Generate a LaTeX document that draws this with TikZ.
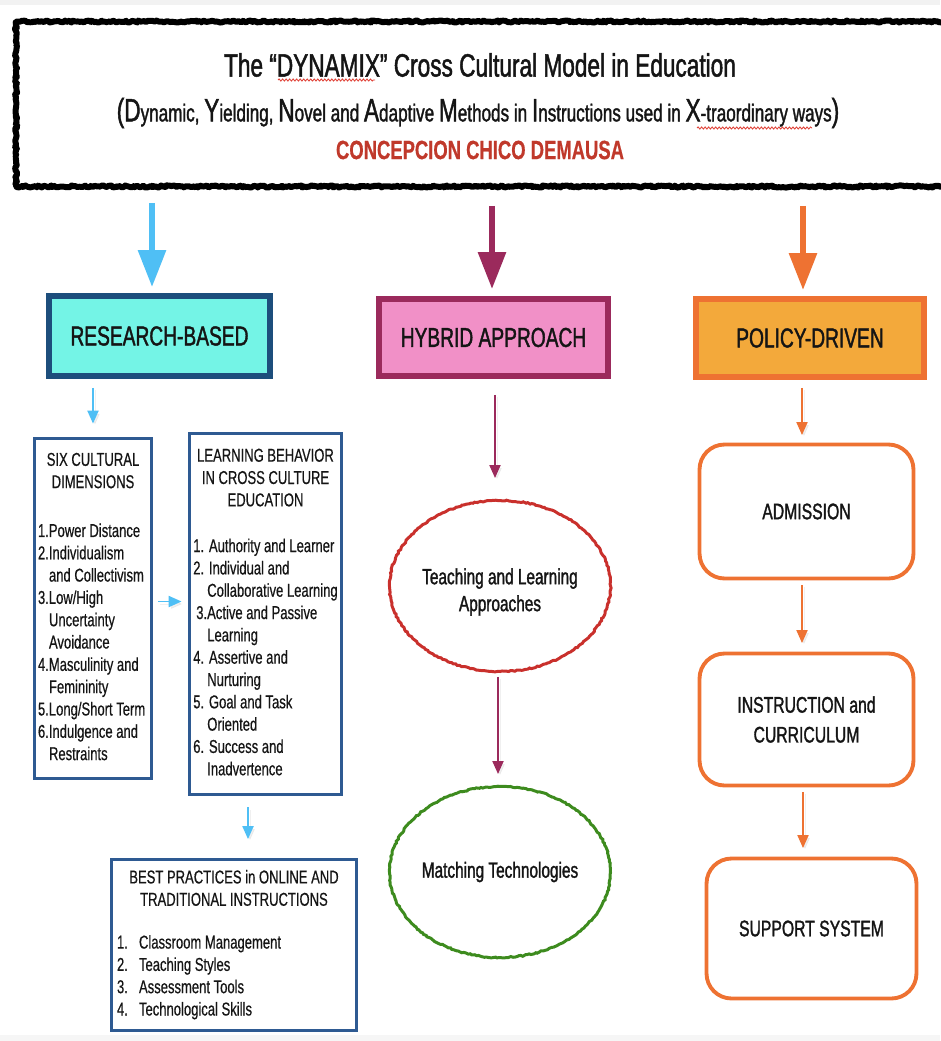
\documentclass[tikz,border=0pt]{standalone}
\usepackage{fontspec}
\setmainfont{Liberation Sans}[FakeStretch=0.7, FakeBold=0.5]
\newfontfamily\headfont{Liberation Sans}[FakeStretch=0.7, FakeBold=1.4]
\usepackage{tikz}
\usetikzlibrary{arrows.meta,calc,positioning,shapes.geometric,decorations.pathmorphing}
\definecolor{TextDark}{HTML}{151515}
\definecolor{NameRed}{HTML}{C0392B}
\definecolor{SpellRed}{HTML}{E0443A}
\definecolor{ResearchFill}{HTML}{74F4E6}
\definecolor{ResearchEdge}{HTML}{1D4E7C}
\definecolor{HybridFill}{HTML}{F190C7}
\definecolor{HybridEdge}{HTML}{9B2A5C}
\definecolor{PolicyFill}{HTML}{F3A93B}
\definecolor{PolicyEdge}{HTML}{EE7232}
\definecolor{ArrowBlue}{HTML}{4FBFF5}
\definecolor{ListEdge}{HTML}{2E5A92}
\definecolor{OvalRed}{HTML}{C9302C}
\definecolor{OvalGreen}{HTML}{3D8B1E}
\newcommand{\bigL}[1]{{\fontsize{18.4}{21}\selectfont #1}}
\newcommand{\ind}{\hspace*{0.22cm}}
\newcommand{\indb}{\hspace*{0.28cm}}
\newcommand{\num}[1]{\makebox[0.44cm][l]{#1}}
\newcommand{\hd}[1]{\multicolumn{1}{@{}c@{}}{#1}}
\newcommand{\hdw}[2]{\multicolumn{1}{@{}c@{}}{\makebox[#1]{#2}}}

\begin{document}
\begin{tikzpicture}[x=0.02cm, y=-0.02cm,
        every node/.style={text=TextDark},
        roughline/.style={decorate, decoration={random steps, segment length=1.2pt, amplitude=0.35pt}},
        titlebox/.style={draw=black, line width=3.4pt, line join=round, minimum width=18.68cm, minimum height=3.3cm,
            decorate, decoration={random steps, segment length=1pt, amplitude=0.6pt}},
        spellline/.style={SpellRed, line width=0.5pt, decorate, decoration={snake, segment length=2pt, amplitude=0.6pt}},
        headbox/.style={draw, line width=3.4pt, inner sep=0pt, font=\headfont\fontsize{15.6}{18}\selectfont},
        listbox/.style={draw=ListEdge, line width=1.6pt, inner sep=0pt, font=\fontsize{10.6}{12.7}\selectfont},
        ovalbox/.style={ellipse, draw, line width=1.7pt, inner sep=0pt, minimum width=4.42cm, minimum height=3.42cm, roughline},
        ovaltext/.style={align=center, font=\headfont\fontsize{12.5}{15.3}\selectfont},
        stepbox/.style={draw=PolicyEdge, line width=2.2pt, rounded corners=0.5cm, inner sep=0pt,
            minimum width=4.28cm, align=center, font=\headfont\fontsize{12.8}{17}\selectfont},
        arrowshade/.style={preaction={draw=black!30, opacity=0.2, transform canvas={shift={(0.04cm,-0.05cm)}}}},
        bigarrow/.style={line width=3.4pt, -{Triangle[width=0.54cm,length=0.74cm]}, arrowshade},
        thinarrow/.style={line width=1.1pt, -{Triangle[width=0.22cm,length=0.26cm]}, arrowshade}
    ]
    \useasboundingbox (0,0) rectangle (940,1041);
    \fill[gray!10] (0,0) rectangle (940,5);
    \fill[gray!7] (0,1035) rectangle (940,1041);

    \node[titlebox] (title) at (483,104) {};
    \node[font=\headfont\fontsize{18.4}{21}\selectfont] (tl1) at (480,65) {The “DYNAMIX” Cross Cultural Model in Education};
    \node[font=\headfont\fontsize{13.9}{16}\selectfont] (tl2) at (478,113) {\bigL{(D}ynamic, \bigL{Y}ielding, \bigL{N}ovel and \bigL{A}daptive \bigL{M}ethods in \bigL{I}nstructions used in \bigL{X}-traordinary ways\bigL{)}};
    \node[text=NameRed, font=\bfseries\fontsize{15}{18}\selectfont] (tl3) at (480,150) {CONCEPCION CHICO DEMAUSA};
    \draw[spellline] (278,80) -- (375,80);
    \draw[spellline] (697,128) -- (812,128);

    \node[headbox, draw=ResearchEdge, fill=ResearchFill, minimum width=4.42cm, minimum height=1.6cm] (rb) at (159.5,336) {RESEARCH-BASED};
    \node[headbox, draw=HybridEdge, fill=HybridFill, minimum width=4.58cm, minimum height=1.54cm] (hb) at (493.5,337.5) {HYBRID APPROACH};
    \node[headbox, draw=PolicyEdge, fill=PolicyFill, minimum width=4.56cm, minimum height=1.56cm] (pd) at (810,338) {POLICY-DRIVEN};

    \draw[bigarrow, ArrowBlue, shorten <=0.27cm, shorten >=0.12cm] ([xshift=-0.15cm]rb.north |- title.south) -- ([xshift=-0.15cm]rb.north);
    \draw[bigarrow, HybridEdge, shorten <=0.33cm, shorten >=0.14cm] ([xshift=-0.03cm]hb.north |- title.south) -- ([xshift=-0.03cm]hb.north);
    \draw[bigarrow, PolicyEdge, shorten <=0.33cm, shorten >=0.12cm] ([xshift=-0.14cm]pd.north |- title.south) -- ([xshift=-0.14cm]pd.north);

    \node[listbox, minimum width=2.34cm, minimum height=6.8cm] (six) at (93,608.5) {\begin{tabular}{@{}l@{}}
        \hdw{2.2cm}{SIX CULTURAL}\\\hd{DIMENSIONS}\\[0.53cm]
        1.Power Distance\\2.Individualism\\\ind and Collectivism\\3.Low/High\\\ind Uncertainty\\\ind Avoidance\\
        4.Masculinity and\\\ind Femininity\\5.Long/Short Term\\6.Indulgence and\\\ind Restraints
        \end{tabular}};
    \node[listbox, minimum width=3.04cm, minimum height=7.22cm] (learn) at (265.5,614) {\begin{tabular}{@{}l@{}}
        \hdw{2.84cm}{LEARNING BEHAVIOR}\\\hd{IN CROSS CULTURE}\\\hd{EDUCATION}\\[0.47cm]
        1. Authority and Learner\\2. Individual and\\\indb Collaborative Learning\\\hspace*{0.06cm}3.Active and Passive\\\indb Learning\\
        4. Assertive and\\\indb Nurturing\\5. Goal and Task\\\indb Oriented\\6. Success and\\\indb Inadvertence
        \end{tabular}};
    \node[listbox, minimum width=4.9cm, minimum height=3.42cm] (best) at (234,945) {\begin{tabular}{@{}l@{}}
        \hdw{4.68cm}{BEST PRACTICES in ONLINE AND}\\\hd{TRADITIONAL INSTRUCTIONS}\\[0.41cm]
        \num{1.}Classroom Management\\\num{2.}Teaching Styles\\\num{3.}Assessment Tools\\\num{4.}Technological Skills
        \end{tabular}};

    \draw[thinarrow, ArrowBlue, shorten <=0.18cm, shorten >=0.27cm] (six.north |- rb.south) -- (six.north);
    \draw[thinarrow, ArrowBlue, shorten <=0.11cm, shorten >=0.13cm] ([yshift=0.14cm]six.east) -- ([yshift=0.14cm]six.east -| learn.west);
    \draw[thinarrow, ArrowBlue, shorten <=0.23cm, shorten >=0.38cm] ([xshift=-0.35cm]learn.south) -- ([xshift=-0.35cm]learn.south |- best.north);

    \node[ovalbox, draw=OvalRed] (tla) at (500,586) {};
    \node[ovaltext] (tlatext) at ([yshift=-0.12cm]tla.center) {Teaching and Learning\\Approaches};
    \node[ovalbox, draw=OvalGreen] (mt) at (500,872) {};
    \node[ovaltext] (mttext) at (mt.center) {Matching Technologies};
    \draw[thinarrow, HybridEdge, shorten <=0.32cm, shorten >=0.42cm] ([xshift=-0.1cm]tla.north |- hb.south) -- ([xshift=-0.1cm]tla.north);
    \draw[thinarrow, HybridEdge, shorten <=0.08cm, shorten >=0.22cm] ([xshift=-0.04cm]tla.south) -- ([xshift=-0.04cm]mt.north);

    \node[stepbox, minimum height=2.68cm] (adm) at (806.5,511.5) {ADMISSION};
    \node[stepbox, minimum height=2.64cm] (inst) at (806.5,719.5) {INSTRUCTION and\\CURRICULUM};
    \node[stepbox, minimum width=4.2cm, minimum height=2.8cm] (sup) at (811.5,928.5) {SUPPORT SYSTEM};
    \draw[thinarrow, PolicyEdge, shorten <=0.16cm, shorten >=0.15cm] ([xshift=-0.09cm]adm.north |- pd.south) -- ([xshift=-0.09cm]adm.north);
    \draw[thinarrow, PolicyEdge, shorten <=0.09cm, shorten >=0.17cm] ([xshift=-0.09cm]adm.south) -- ([xshift=-0.09cm]inst.north);
    \draw[thinarrow, PolicyEdge, shorten <=0.09cm, shorten >=0.17cm] ([xshift=-0.07cm]inst.south) -- ([xshift=-0.07cm]inst.south |- sup.north);
\end{tikzpicture}
\end{document}
